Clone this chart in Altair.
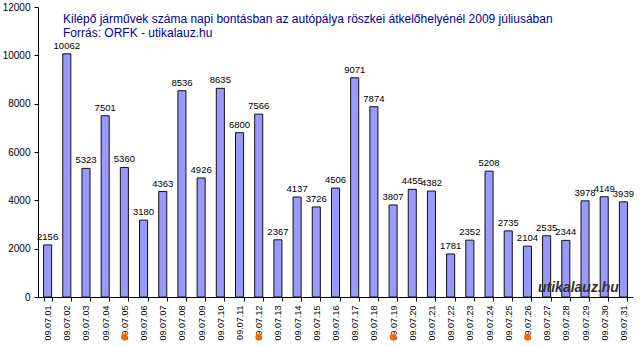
import altair as alt
import pandas as pd

days = ["09.07.%02d" % d for d in range(1, 32)]
values = [2156, 10062, 5323, 7501, 5360, 3180, 4363, 8536, 4926, 8635, 6800,
          7566, 2367, 4137, 3726, 4506, 9071, 7874, 3807, 4455, 4382, 1781,
          2352, 5208, 2735, 2104, 2535, 2344, 3978, 4149, 3939]
sundays = ["09.07.05", "09.07.12", "09.07.19", "09.07.26"]
title_lines = ["Kilépő járművek száma napi bontásban az autópálya röszkei átkelőhelyénél 2009 júliusában",
               "Forrás: ORFK - utikalauz.hu"]

df = pd.DataFrame({"day": days, "value": values})
sun_df = pd.DataFrame({"day": sundays})

FONT = "Liberation Sans"

xscale = alt.Scale(domain=days, paddingInner=0.58, paddingOuter=0.29)
yscale = alt.Scale(domain=[0, 12000])

xenc = alt.X("day:N", scale=xscale, sort=days,
             axis=alt.Axis(title=None, labelAngle=-90, labelFontSize=9, labelFont=FONT,
                           labelColor="#000", tickBand="extent", tickSize=4,
                           tickColor="#000", domainColor="#000", labelPadding=4))

bars = alt.Chart(df).mark_bar(color="#9999FF", stroke="#111", strokeWidth=1).encode(
    x=xenc,
    y=alt.Y("value:Q", scale=yscale,
            axis=alt.Axis(title=None, values=[0, 2000, 4000, 6000, 8000, 10000, 12000],
                          format="d", grid=False, tickSize=4, labelFontSize=10, labelFont=FONT,
                          labelColor="#000", tickColor="#000", domainColor="#000",
                          labelPadding=4)),
)

labels = alt.Chart(df).mark_text(dy=-8, fontSize=9.5, font=FONT, color="#000").encode(
    x=alt.X("day:N", scale=xscale, sort=days),
    y=alt.Y("value:Q", scale=yscale),
    text="value:Q",
)

dots = alt.Chart(sun_df).mark_point(filled=True, color="#FF6600", size=45, opacity=1).encode(
    x=alt.X("day:N", scale=xscale, sort=days),
    y=alt.value(330),
)

watermark = alt.Chart(pd.DataFrame({"t": ["utikalauz.hu"]})).mark_text(
    fontSize=14, font=FONT, fontStyle="italic", fontWeight="bold", color="#333",
    align="left", baseline="middle").encode(
    x=alt.value(500), y=alt.value(281), text="t:N")

chart = alt.layer(bars, labels, dots, watermark).properties(
    width=595, height=290,
    padding={"left": 38, "top": 7, "right": 7, "bottom": 49},
    autosize=alt.AutoSizeParams(type="none"),
    title=alt.TitleParams(text=title_lines, anchor="start", frame="group", dx=25, dy=38,
                          fontSize=12, font=FONT, fontWeight="normal",
                          color="#00009C", lineHeight=14, offset=0),
).configure_view(stroke=None)

chart.save("out.html", embed_options={"renderer": "svg", "actions": False})
